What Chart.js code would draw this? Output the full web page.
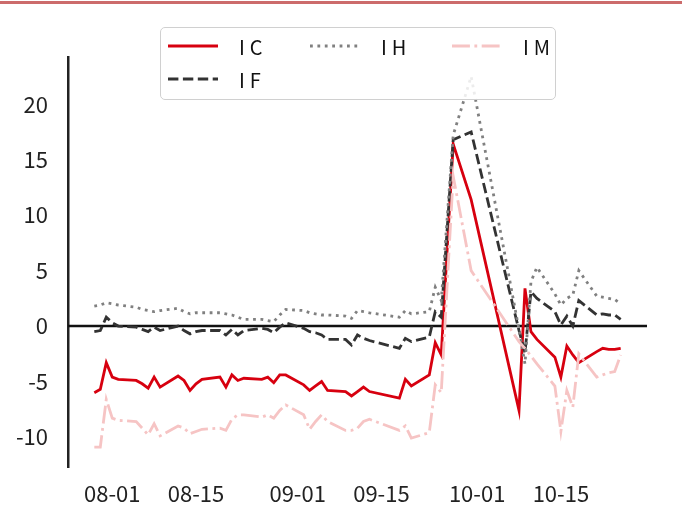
<!DOCTYPE html>
<html>
<head>
<meta charset="utf-8">
<script src="https://cdn.jsdelivr.net/npm/chart.js@4.4.1/dist/chart.umd.min.js"></script>
<style>
  html, body { margin: 0; padding: 0; background: #fff; }
  #wrap { position: relative; width: 682px; height: 529px; }
  #topRule { position: absolute; left: 0; top: 1px; width: 682px; height: 3px; background: #cc6b6b; }
  #legend {
    position: absolute; left: 160px; top: 27px; width: 394px; height: 71px;
    border: 1.5px solid #d0d0d0; border-radius: 5px; background: rgba(255,255,255,0.85);
    font-family: 'Noto Sans CJK SC', 'DejaVu Sans', sans-serif; font-size: 20px; color: #111;
  }
  .item { position: absolute; height: 24px; display: flex; align-items: center; }
  .item svg { width: 50px; height: 6px; margin-right: 21px; }
  .item span { letter-spacing: 5px; }
</style>
</head>
<body>
<div id="wrap">
  <canvas id="chart" width="682" height="529"></canvas>
  <div id="topRule"></div>
  <div id="legend"></div>
</div>
<script>
    // trading days, 2024
    const dates = [
        '07-29', '07-30', '07-31',
        '08-01', '08-02', '08-05', '08-06', '08-07', '08-08', '08-09', '08-12', '08-13', '08-14',
        '08-15', '08-16', '08-19', '08-20', '08-21', '08-22', '08-23', '08-26', '08-27', '08-28',
        '08-29', '08-30',
        '09-02', '09-03', '09-04', '09-05', '09-06', '09-09', '09-10', '09-11', '09-12', '09-13',
        '09-18', '09-19', '09-20', '09-23', '09-24', '09-25', '09-26', '09-27', '09-30',
        '10-08', '10-09', '10-10', '10-11', '10-14', '10-15', '10-16', '10-17', '10-18', '10-21',
        '10-22', '10-23', '10-24', '10-25'
    ];

    const icData = [
        -6.0, -5.7, -3.3,
        -4.6, -4.8, -4.9, -5.2, -5.6, -4.6, -5.5, -4.5, -4.9, -5.8,
        -5.2, -4.8, -4.6, -5.5, -4.4, -4.9, -4.7, -4.8, -4.6, -5.1,
        -4.4, -4.4,
        -5.3, -5.8, -5.4, -5.0, -5.8, -5.9, -6.3, -5.9, -5.5, -5.9,
        -6.5, -4.8, -5.4, -4.4, -1.5, -2.6, 7.0, 16.4, 11.4,
        -7.6, 3.4, -0.5, -1.2, -2.8, -4.6, -1.8, -2.6, -3.3, -2.3,
        -2.0, -2.1, -2.1, -2.0
    ];

    const ifData = [
        -0.5, -0.4, 0.8,
        0.3, 0.0, -0.1, -0.3, -0.5, -0.1, -0.4, 0.0, -0.4, -0.7,
        -0.5, -0.4, -0.4, -0.8, -0.3, -0.8, -0.4, -0.2, -0.3, -0.6,
        -0.1, 0.3,
        -0.2, -0.5, -0.6, -0.8, -1.2, -1.2, -1.7, -0.8, -1.1, -1.3,
        -2.0, -1.1, -1.4, -1.0, 1.3, 0.8, 8.8, 16.8, 17.5,
        -0.4, -2.4, 3.1, 2.5, 1.3, 0.1, 0.9, 0.0, 2.3, 1.0,
        1.1, 1.0, 1.0, 0.6
    ];

    const ihData = [
        1.8, 1.9, 2.1,
        2.0, 1.9, 1.7, 1.5, 1.4, 1.3, 1.4, 1.6, 1.3, 1.1,
        1.2, 1.2, 1.2, 1.1, 1.0, 0.8, 0.6, 0.6, 0.5, 0.4,
        1.0, 1.5,
        1.4, 1.2, 1.1, 1.0, 1.0, 0.9, 0.7, 1.4, 1.3, 1.2,
        0.8, 1.4, 1.1, 1.3, 3.5, 2.3, 9.8, 17.2, 22.5,
        -0.3, -3.4, 4.0, 5.3, 2.9, 1.9, 2.5, 2.8, 5.0, 2.7,
        2.6, 2.5, 2.4, 2.0
    ];

    const imData = [
        -10.9, -10.9, -6.6,
        -8.3, -8.5, -8.6, -9.2, -9.8, -8.8, -9.9, -9.0, -9.2, -9.7,
        -9.5, -9.3, -9.2, -9.4, -8.4, -8.0, -8.0, -8.2, -8.0, -8.3,
        -7.6, -7.1,
        -8.0, -9.3, -8.6, -8.0, -8.6, -9.4, -9.4, -9.2, -8.6, -8.4,
        -9.4, -9.0, -10.1, -9.6, -5.3, -6.0, 3.8, 13.5, 5.0,
        -1.4, -2.0, -2.7, -3.4, -5.4, -9.5, -5.8, -7.3, -2.5, -4.6,
        -4.4, -4.2, -4.1, -2.6
    ];

    const xTickLabels = ['08-01', '08-15', '09-01', '09-15', '10-01', '10-15'];
    const yTickValues = [-10, -5, 0, 5, 10, 15, 20];

    // date string -> days since 08-01
    function dayNum(s) {
        const [m, d] = s.split('-').map(Number);
        return (Date.UTC(2024, m - 1, d) - Date.UTC(2024, 7, 1)) / 86400000;
    }
    const xs = dates.map(dayNum);
    const xTickValues = xTickLabels.map(dayNum);

    const lw = 2.8;
    const series = [
        { label: 'IC', data: icData, color: '#d7000f', dash: [], order: 4 },
        { label: 'IF', data: ifData, color: '#333333', dash: [10.4, 4.5], order: 3 },
        { label: 'IH', data: ihData, color: '#808080', dash: [2.8, 4.6], order: 2 },
        { label: 'IM', data: imData, color: '#f6c4c4', dash: [17.9, 4.5, 2.8, 4.5], order: 1 }
    ];

    const span = xs[xs.length - 1] - xs[0];
    const fontFamily = "'Noto Sans CJK SC', 'DejaVu Sans', sans-serif";

    const zeroLine = {
        id: 'zeroLine',
        beforeDatasetsDraw(chart) {
            const { ctx, chartArea, scales } = chart;
            const py = scales.y.getPixelForValue(0);
            ctx.save();
            ctx.strokeStyle = '#111';
            ctx.lineWidth = 2.5;
            ctx.beginPath();
            ctx.moveTo(chartArea.left, py);
            ctx.lineTo(chartArea.right, py);
            ctx.stroke();
            ctx.restore();
        }
    };

    new Chart(document.getElementById('chart').getContext('2d'), {
        type: 'line',
        data: {
            datasets: series.map(s => ({
                label: s.label,
                data: s.data.map((v, i) => ({ x: xs[i], y: v })),
                borderColor: s.color,
                borderWidth: lw,
                borderDash: s.dash,
                borderCapStyle: 'butt',
                pointRadius: 0,
                tension: 0,
                fill: false,
                order: s.order
            }))
        },
        options: {
            responsive: false,
            devicePixelRatio: 1,
            animation: false,
            layout: { padding: { top: 57, right: 35, left: 0, bottom: 0 } },
            plugins: {
                legend: { display: false },
                tooltip: { enabled: false }
            },
            scales: {
                x: {
                    type: 'linear',
                    min: xs[0] - span * 0.05,
                    max: xs[xs.length - 1] + span * 0.05,
                    grid: { display: false, drawTicks: false },
                    border: { display: false },
                    afterBuildTicks: scale => { scale.ticks = xTickValues.map(v => ({ value: v })); },
                    afterFit: scale => { scale.height = 62; },
                    ticks: {
                        autoSkip: false,
                        maxRotation: 0,
                        padding: 13,
                        color: '#222',
                        font: { family: fontFamily, size: 22 },
                        callback: v => xTickLabels[xTickValues.indexOf(v)]
                    }
                },
                y: {
                    min: -12.7,
                    max: 24.25,
                    grid: { display: false, drawTicks: false },
                    border: { display: true, color: '#222', width: 2.5 },
                    afterBuildTicks: scale => { scale.ticks = yTickValues.map(v => ({ value: v })); },
                    afterFit: scale => { scale.width = 68; },
                    ticks: {
                        padding: 20,
                        color: '#222',
                        font: { family: fontFamily, size: 22 }
                    }
                }
            }
        },
        plugins: [zeroLine]
    });

    // legend: 3 columns, filled column by column like the original
    const legendPos = {
        IC: [7, 6], IF: [7, 39], IH: [149, 6], IM: [291, 6]
    };
    const legend = document.getElementById('legend');
    series.forEach(s => {
        const [left, top] = legendPos[s.label];
        const item = document.createElement('div');
        item.className = 'item';
        item.style.left = left + 'px';
        item.style.top = top + 'px';
        item.innerHTML =
            '<svg viewBox="0 0 50 6"><line x1="0" y1="3" x2="50" y2="3" stroke="' + s.color +
            '" stroke-width="' + lw + '" stroke-dasharray="' + (s.dash.length ? s.dash.join(' ') : 'none') +
            '"/></svg><span>' + s.label + '</span>';
        legend.appendChild(item);
    });
</script>
</body>
</html>
